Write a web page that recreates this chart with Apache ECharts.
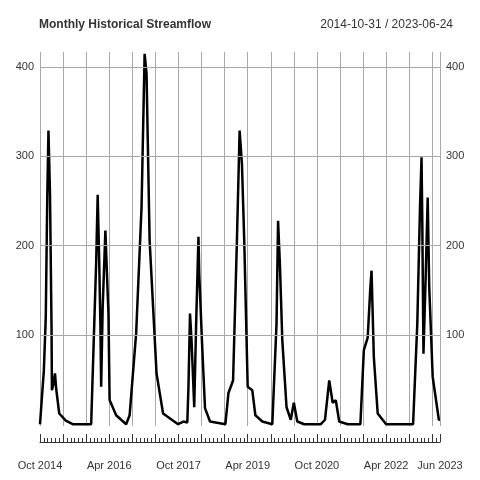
<!DOCTYPE html>
<html>
<head>
<meta charset="utf-8">
<script src="https://cdn.jsdelivr.net/npm/echarts@6/dist/echarts.min.js"></script>
<style>html,body{margin:0;background:#fff}#c{width:480px;height:480px}</style>
</head>
<body>
<div id="c"></div>
<script>
// months since Oct 2014 (fractional where the trace has sub-monthly detail)
const monthIndex = [0, 1, 1.5, 1.9, 2.2, 2.4, 2.6, 3, 3.1, 3.5, 3.9, 4.2, 5, 6.7, 8.5, 13.3, 14.6, 15.0, 15.4, 15.7, 15.9, 16.3, 17.0, 17.4, 17.8, 18.1, 19.8, 22.4, 23.3, 25.0, 26.4, 27.2, 27.7, 28.5, 30.3, 32.0, 35.9, 36.4, 37.3, 38.3, 38.6, 39.0, 39.4, 40.1, 40.6, 41.2, 41.4, 42.1, 42.9, 44.2, 48.2, 49, 50.2, 51.2, 51.9, 52.5, 53.1, 54, 55.2, 56, 57.8, 60.4, 61.5, 61.9, 62.4, 63, 64.1, 65.2, 66, 66.9, 68.7, 73, 74.1, 75.2, 76.1, 76.9, 77.8, 80, 83.3, 84.2, 85.2, 85.9, 86.2, 86.8, 87.8, 90, 97, 98.1, 98.8, 99.2, 99.4, 99.7, 100.3, 100.8, 101.2, 102.1, 103.7, 104];
const flow = [0, 60, 120, 258, 329, 329, 258, 108, 38, 45, 57, 40, 12, 4, 0, 0, 181, 257, 181, 113, 42, 131, 217, 169, 124, 27, 10, 0, 10, 102, 243, 415, 393, 206, 57, 12, 0, 0, 3, 2, 42, 124, 94, 19, 113, 210, 169, 94, 18, 3, 0, 35, 49, 206, 329, 292, 206, 42, 38, 10, 3, 0, 113, 228, 176, 94, 19, 5, 24, 3, 0, 0, 5, 49, 24, 27, 3, 0, 0, 83, 97, 154, 172, 75, 12, 0, 0, 113, 243, 299, 225, 79, 169, 254, 154, 53, 5, 5];
const labelMonths = [0, 18, 36, 54, 72, 90, 104];
const labelTexts = ['Oct 2014', 'Apr 2016', 'Oct 2017', 'Apr 2019', 'Oct 2020', 'Apr 2022', 'Jun 2023'];
const yTicks = [100, 200, 300, 400];

const font = { fontFamily: 'Liberation Sans, Arial, sans-serif', fontSize: 11, color: '#333' };
const gridColor = '#a8a8a8';

const chart = echarts.init(document.getElementById('c'), null, { renderer: 'canvas' });
const yBase = {
  type: 'value', min: -2, max: 417,
  splitLine: { show: false }, axisLine: { show: false }, axisTick: { show: false },
  axisLabel: { ...font, customValues: yTicks, margin: 6 }
};
chart.setOption({
  animation: false,
  title: [
    { text: 'Monthly Historical Streamflow', left: 34, top: 14, textStyle: { fontFamily: font.fontFamily, fontSize: 12, fontWeight: 'bold', color: '#333' } },
    { text: '2014-10-31 / 2023-06-24', right: 22, top: 14, textStyle: { fontFamily: font.fontFamily, fontSize: 12, fontWeight: 'normal', color: '#333' } }
  ],
  grid: { left: 40, right: 40, top: 52, bottom: 54 },
  xAxis: [
    {
      type: 'value', min: 0, max: 104, interval: 6,
      axisLine: { show: false }, axisTick: { show: false }, axisLabel: { show: false },
      splitLine: { show: true, lineStyle: { color: gridColor, width: 1 } }
    },
    {
      type: 'value', min: 0, max: 104, interval: 6, position: 'bottom', offset: 16,
      splitLine: { show: false },
      axisLine: { show: true, onZero: false, lineStyle: { color: '#333', width: 1 } },
      axisTick: { show: true, inside: true, length: 8, lineStyle: { color: '#333' } },
      minorTick: { show: true, splitNumber: 6, length: 4, lineStyle: { color: '#333' } },
      axisLabel: {
        ...font, margin: 18, customValues: labelMonths,
        formatter: v => labelTexts[labelMonths.indexOf(v)]
      }
    }
  ],
  yAxis: [
    { ...yBase, position: 'left' },
    { ...yBase, position: 'right' }
  ],
  series: [{
    type: 'line', xAxisIndex: 0, yAxisIndex: 0,
    data: monthIndex.map((m, i) => [m, flow[i]]),
    showSymbol: false,
    lineStyle: { color: '#000', width: 2.5 },
    markLine: {
      silent: true, symbol: 'none', label: { show: false },
      lineStyle: { color: gridColor, width: 1, type: 'solid' },
      data: yTicks.map(v => ({ yAxis: v }))
    },
    z: 3
  }]
});
</script>
</body>
</html>
